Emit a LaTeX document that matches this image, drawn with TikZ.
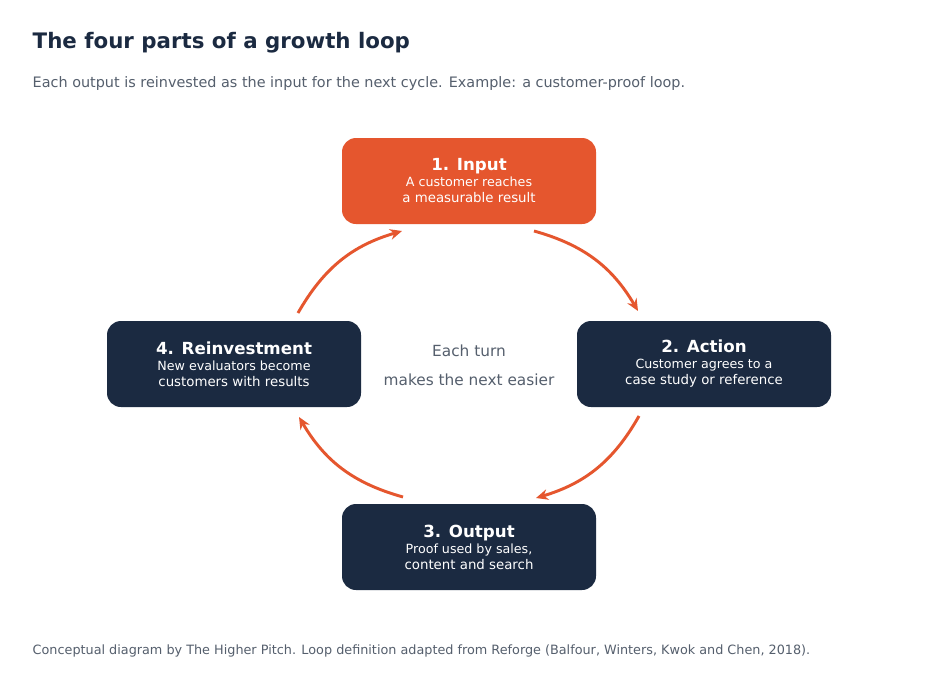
\documentclass[tikz,border=0pt]{standalone}
\usepackage{fontspec}
\setmainfont{DejaVu Sans}
\usetikzlibrary{arrows.meta}
\definecolor{loopred}{HTML}{E5562E}
\definecolor{loopnavy}{HTML}{1B2A41}
\definecolor{loopgrey}{HTML}{555F6D}
\tikzset{
  loopbox/.style={rounded corners=10.5pt,minimum width=190.5pt,minimum height=64.5pt,
    text=white,align=center,fill=loopnavy,inner sep=0pt},
  flow/.style={-{Stealth[length=9pt,width=8pt]},line width=2.2pt,draw=loopred,bend left=22}
}
\newcommand{\looptitle}{\fontsize{12.5}{16}\selectfont\bfseries}
\newcommand{\loopbody}{\fontsize{9.5}{11}\selectfont\mdseries}
\begin{document}
\begin{tikzpicture}[x=0.75pt,y=0.75pt]
	\useasboundingbox[fill=white] (0,0) rectangle (938,-675);
	% Heading
	\node[anchor=west,text=loopnavy,font=\fontsize{16}{19}\selectfont\bfseries] (title) at (28,-43) {The four parts of a growth loop};
	\node[anchor=west,text=loopgrey,font=\fontsize{10.8}{13}\selectfont] (sub) at (28,-84) {Each output is reinvested as the input for the next cycle. Example: a customer-proof loop.};
	
	% Steps
	\node[loopbox,fill=loopred] (input) at (469,-181) {\looptitle 1. Input\\\loopbody A customer reaches\\a measurable result};
	\node[loopbox] (action) at (704,-364) {\looptitle 2. Action\\\loopbody Customer agrees to a\\case study or reference};
	\node[loopbox] (output) at (469,-547) {\looptitle 3. Output\\\loopbody Proof used by sales,\\content and search};
	\node[loopbox] (reinv) at (234,-364) {\looptitle 4. Reinvestment\\\loopbody New evaluators become\\customers with results};
	
	\node[text=loopgrey,align=center,font=\fontsize{11.5}{21.5}\selectfont] (centre) at (469,-365) {Each turn\\makes the next easier};
	
	% Arrows
	\coordinate (a1) at (534,-231); \coordinate (b1) at (638,-311);
	\coordinate (a2) at (639,-416); \coordinate (b2) at (536,-498);
	\coordinate (a3) at (403,-497); \coordinate (b3) at (299,-417);
	\coordinate (a4) at (298,-313); \coordinate (b4) at (402,-231);
	\draw[flow] (a1) to (b1);
	\draw[flow] (a2) to (b2);
	\draw[flow] (a3) to (b3);
	\draw[flow] (a4) to (b4);
	
	\node[anchor=west,text=loopgrey,font=\fontsize{9.6}{12}\selectfont] (foot) at (28,-651) {Conceptual diagram by The Higher Pitch. Loop definition adapted from Reforge (Balfour, Winters, Kwok and Chen, 2018).};
\end{tikzpicture}
\end{document}
